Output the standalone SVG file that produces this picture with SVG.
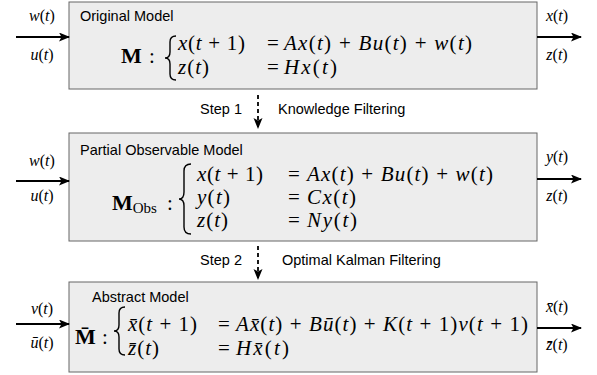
<svg xmlns="http://www.w3.org/2000/svg" width="597" height="375" viewBox="0 0 597 375">
<style>
.box{fill:#ededed;stroke:#666;stroke-width:1}
.ttl{font-family:"Liberation Sans",Arial,sans-serif;font-size:14.5px;fill:#000}
.m{font-family:"Liberation Serif","DejaVu Serif",serif;font-size:21px;fill:#000}
.mb{font-family:"Liberation Serif","DejaVu Serif",serif;font-size:22px;font-weight:bold;fill:#000}
.sub{font-family:"Liberation Serif","DejaVu Serif",serif;font-size:15px;font-weight:normal}
.lbl{font-family:"Liberation Serif","DejaVu Serif",serif;font-size:16px;fill:#000;text-anchor:middle}
.i{font-style:italic}
.brace{fill:none;stroke:#000;stroke-width:1.4}
.arr{fill:none;stroke:#000;stroke-width:1.8}
.dash{fill:none;stroke:#000;stroke-width:1.8;stroke-dasharray:4 3}
</style>
<defs>
<marker id="ah" markerUnits="userSpaceOnUse" markerWidth="12" markerHeight="10" refX="10" refY="4.5" orient="auto">
<path d="M0,0 L11,4.5 L0,9 L2.5,4.5 z" fill="#000"/>
</marker>
</defs>

<g id="node-original">
<rect class="box" x="69" y="2" width="468" height="87"/>
<text class="ttl" x="80" y="21">Original Model</text>
<text class="mb" x="121" y="63">M</text>
<text class="m" x="149" y="63">:</text>
<path class="brace" d="M176,36 Q170,36 170,42 L170,52 Q170,58 165,58 Q170,58 170,64 L170,74 Q170,80 176,80"/>
<text class="m" x="178" y="50" textLength="67" lengthAdjust="spacing"><tspan class="i">x</tspan>(<tspan class="i">t</tspan> + 1)</text>
<text class="m" x="178" y="74" textLength="31" lengthAdjust="spacing"><tspan class="i">z</tspan>(<tspan class="i">t</tspan>)</text>
<text class="m" x="267" y="50">=</text>
<text class="m" x="267" y="74">=</text>
<text class="m" x="284" y="50" textLength="188" lengthAdjust="spacing"><tspan class="i">Ax</tspan>(<tspan class="i">t</tspan>) + <tspan class="i">Bu</tspan>(<tspan class="i">t</tspan>) + <tspan class="i">w</tspan>(<tspan class="i">t</tspan>)</text>
<text class="m" x="284" y="74" textLength="53" lengthAdjust="spacing"><tspan class="i">Hx</tspan>(<tspan class="i">t</tspan>)</text>
</g>

<g id="node-partial">
<rect class="box" x="69" y="133" width="468" height="108"/>
<text class="ttl" x="80" y="155">Partial Observable Model</text>
<text class="mb" x="112" y="210">M<tspan class="sub" dy="3">Obs</tspan></text>
<text class="m" x="167" y="210">:</text>
<path class="brace" d="M191,164 Q184,164 184,171 L184,192 Q184,199 179,199 Q184,199 184,206 L184,227 Q184,234 191,234"/>
<text class="m" x="197" y="181" textLength="66" lengthAdjust="spacing"><tspan class="i">x</tspan>(<tspan class="i">t</tspan> + 1)</text>
<text class="m" x="197" y="204" textLength="33" lengthAdjust="spacing"><tspan class="i">y</tspan>(<tspan class="i">t</tspan>)</text>
<text class="m" x="197" y="227" textLength="31" lengthAdjust="spacing"><tspan class="i">z</tspan>(<tspan class="i">t</tspan>)</text>
<text class="m" x="288" y="181">=</text>
<text class="m" x="288" y="204">=</text>
<text class="m" x="288" y="227">=</text>
<text class="m" x="307" y="181" textLength="186" lengthAdjust="spacing"><tspan class="i">Ax</tspan>(<tspan class="i">t</tspan>) + <tspan class="i">Bu</tspan>(<tspan class="i">t</tspan>) + <tspan class="i">w</tspan>(<tspan class="i">t</tspan>)</text>
<text class="m" x="307" y="204" textLength="49" lengthAdjust="spacing"><tspan class="i">Cx</tspan>(<tspan class="i">t</tspan>)</text>
<text class="m" x="307" y="227" textLength="50" lengthAdjust="spacing"><tspan class="i">Ny</tspan>(<tspan class="i">t</tspan>)</text>
</g>

<g id="node-abstract">
<rect class="box" x="69" y="282" width="468" height="90"/>
<text class="ttl" x="92" y="302">Abstract Model</text>
<text class="mb" x="75" y="344">M̄</text>
<text class="m" x="102" y="344">:</text>
<path class="brace" d="M125,307 Q119,307 119,313 L119,325 Q119,331 114,331 Q119,331 119,337 L119,349 Q119,355 125,355"/>
<text class="m" x="128" y="331" textLength="69" lengthAdjust="spacing"><tspan class="i">x̄</tspan>(<tspan class="i">t</tspan> + 1)</text>
<text class="m" x="128" y="355" textLength="31" lengthAdjust="spacing"><tspan class="i">z̄</tspan>(<tspan class="i">t</tspan>)</text>
<text class="m" x="218" y="331">=</text>
<text class="m" x="218" y="355">=</text>
<text class="m" x="236" y="331" textLength="292" lengthAdjust="spacing"><tspan class="i">Ax̄</tspan>(<tspan class="i">t</tspan>) + <tspan class="i">Bū</tspan>(<tspan class="i">t</tspan>) + <tspan class="i">K</tspan>(<tspan class="i">t</tspan> + 1)<tspan class="i">v</tspan>(<tspan class="i">t</tspan> + 1)</text>
<text class="m" x="236" y="355" textLength="53" lengthAdjust="spacing"><tspan class="i">Hx̄</tspan>(<tspan class="i">t</tspan>)</text>
</g>

<g id="connectors">
<line class="arr" x1="16" y1="37" x2="69" y2="37" marker-end="url(#ah)"/>
<line class="arr" x1="537" y1="37" x2="581" y2="37" marker-end="url(#ah)"/>
<line class="arr" x1="16" y1="181" x2="69" y2="181" marker-end="url(#ah)"/>
<line class="arr" x1="537" y1="179" x2="581" y2="179" marker-end="url(#ah)"/>
<line class="arr" x1="16" y1="324" x2="69" y2="324" marker-end="url(#ah)"/>
<line class="arr" x1="537" y1="328" x2="581" y2="328" marker-end="url(#ah)"/>
<line class="dash" x1="258" y1="95" x2="258" y2="128" marker-end="url(#ah)"/>
<line class="dash" x1="258" y1="246" x2="258" y2="279" marker-end="url(#ah)"/>
<text class="lbl" x="42" y="21"><tspan class="i">w</tspan>(<tspan class="i">t</tspan>)</text>
<text class="lbl" x="42" y="60"><tspan class="i">u</tspan>(<tspan class="i">t</tspan>)</text>
<text class="lbl" x="557" y="21"><tspan class="i">x</tspan>(<tspan class="i">t</tspan>)</text>
<text class="lbl" x="557" y="60"><tspan class="i">z</tspan>(<tspan class="i">t</tspan>)</text>
<text class="lbl" x="42" y="166"><tspan class="i">w</tspan>(<tspan class="i">t</tspan>)</text>
<text class="lbl" x="42" y="201"><tspan class="i">u</tspan>(<tspan class="i">t</tspan>)</text>
<text class="lbl" x="557" y="162"><tspan class="i">y</tspan>(<tspan class="i">t</tspan>)</text>
<text class="lbl" x="557" y="201"><tspan class="i">z</tspan>(<tspan class="i">t</tspan>)</text>
<text class="lbl" x="42" y="314"><tspan class="i">v</tspan>(<tspan class="i">t</tspan>)</text>
<text class="lbl" x="42" y="348"><tspan class="i">ū</tspan>(<tspan class="i">t</tspan>)</text>
<text class="lbl" x="557" y="312"><tspan class="i">x̄</tspan>(<tspan class="i">t</tspan>)</text>
<text class="lbl" x="557" y="350"><tspan class="i">z̄</tspan>(<tspan class="i">t</tspan>)</text>
<text class="ttl" x="242" y="114" text-anchor="end">Step 1</text>
<text class="ttl" x="278" y="114">Knowledge Filtering</text>
<text class="ttl" x="242" y="265" text-anchor="end">Step 2</text>
<text class="ttl" x="282" y="265">Optimal Kalman Filtering</text>
</g>
</svg>
